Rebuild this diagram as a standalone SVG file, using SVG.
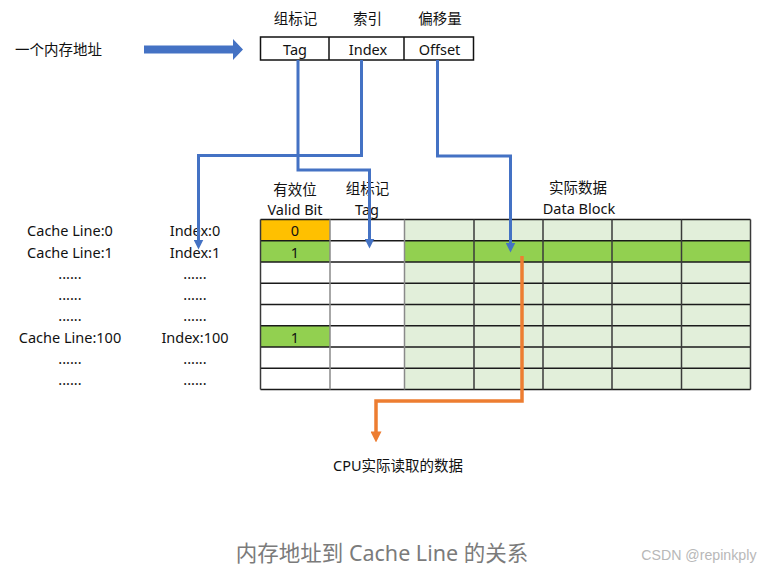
<svg xmlns="http://www.w3.org/2000/svg" width="769" height="572" viewBox="0 0 769 572">
<defs>
<style>
text{font-family:"Noto Sans","Noto Sans CJK SC",sans-serif;font-size:14.5px;fill:#111;text-anchor:middle;dominant-baseline:central}
.cap{font-size:21.5px;fill:#7b7b7b}
.wm{font-family:"Liberation Sans",Arial,sans-serif;font-size:14.2px;fill:#b8b8b8;text-anchor:end}
.blue{fill:none;stroke:#4472C4;stroke-width:3;stroke-linejoin:miter}
.orange{fill:none;stroke:#ED7D31;stroke-width:3.5;stroke-linejoin:miter}
.hl{stroke:#1a1a1a;stroke-width:1.5}
.vl{stroke:#3a3a3a;stroke-width:1.5}
.vg{stroke:#8a8a8a;stroke-width:1.5}
.lg{fill:#E2EFDA}
.gr{fill:#92D050}
.og{fill:#FFC000}
</style>
<marker id="ab" viewBox="0 0 10 10" refX="0.5" refY="5" markerWidth="10" markerHeight="10" markerUnits="userSpaceOnUse" orient="auto">
<path d="M0,0 L10,5 L0,10 z" fill="#4472C4"/>
</marker>
<marker id="ao" viewBox="0 0 10 10" refX="0.5" refY="5" markerWidth="11" markerHeight="11" markerUnits="userSpaceOnUse" orient="auto">
<path d="M0,0 L10,5 L0,10 z" fill="#ED7D31"/>
</marker>
</defs>
<rect width="769" height="572" fill="#fff"/>

<g id="address-label">
<text x="58.5" y="48.5">一个内存地址</text>
</g>
<g id="big-arrow">
<polygon points="144,45.5 233,45.5 233,39 243,49.5 233,60 233,53.5 144,53.5" fill="#4472C4"/>
</g>
<g id="address">
<rect x="260.5" y="37" width="213" height="23" fill="#fff" stroke="#111" stroke-width="1.5"/>
<line x1="329" y1="37" x2="329" y2="60" stroke="#111" stroke-width="1.5"/>
<line x1="404" y1="37" x2="404" y2="60" stroke="#111" stroke-width="1.5"/>
<text x="295" y="48.5">Tag</text>
<text x="368" y="48.5">Index</text>
<text x="439.5" y="48.5">Offset</text>
<text x="295.5" y="18">组标记</text>
<text x="367.5" y="18">索引</text>
<text x="440" y="18">偏移量</text>
</g>

<g id="headers">
<text x="295" y="189">有效位</text>
<text x="295" y="209">Valid Bit</text>
<text x="367.5" y="188">组标记</text>
<text x="367" y="209">Tag</text>
<text x="578" y="187">实际数据</text>
<text x="579" y="208">Data Block</text>
</g>

<g id="row-labels">
<text x="70" y="230">Cache Line:0</text>
<text x="70" y="251.5">Cache Line:1</text>
<text x="70" y="272.5">......</text>
<text x="70" y="294">......</text>
<text x="70" y="315">......</text>
<text x="70" y="336.5">Cache Line:100</text>
<text x="70" y="357.5">......</text>
<text x="70" y="379">......</text>
<text x="195" y="230">Index:0</text>
<text x="195" y="251.5">Index:1</text>
<text x="195" y="272.5">......</text>
<text x="195" y="294">......</text>
<text x="195" y="315">......</text>
<text x="195" y="336.5">Index:100</text>
<text x="195" y="357.5">......</text>
<text x="195" y="379">......</text>
</g>

<g id="cache-table">
<rect class="lg" x="404.5" y="219.5" width="346" height="170"/>
<rect class="gr" x="404.5" y="240.75" width="346" height="21.25"/>
<rect class="og" x="260.5" y="219.5" width="69.5" height="21.25"/>
<rect class="gr" x="260.5" y="240.75" width="69.5" height="21.25"/>
<rect class="gr" x="260.5" y="325.75" width="69.5" height="21.25"/>
<line class="hl" x1="260.5" y1="219.5" x2="750.5" y2="219.5"/>
<line class="hl" x1="260.5" y1="240.75" x2="750.5" y2="240.75"/>
<line class="hl" x1="260.5" y1="262" x2="750.5" y2="262"/>
<line class="hl" x1="260.5" y1="283.25" x2="750.5" y2="283.25"/>
<line class="hl" x1="260.5" y1="304.5" x2="750.5" y2="304.5"/>
<line class="hl" x1="260.5" y1="325.75" x2="750.5" y2="325.75"/>
<line class="hl" x1="260.5" y1="347" x2="750.5" y2="347"/>
<line class="hl" x1="260.5" y1="368.25" x2="750.5" y2="368.25"/>
<line class="hl" x1="260.5" y1="389.5" x2="750.5" y2="389.5"/>
<line class="vl" x1="260.5" y1="219.5" x2="260.5" y2="389.5"/>
<line class="vg" x1="330" y1="219.5" x2="330" y2="389.5"/>
<line class="vg" x1="404.5" y1="219.5" x2="404.5" y2="389.5"/>
<line class="vl" x1="474" y1="219.5" x2="474" y2="389.5"/>
<line class="vl" x1="543" y1="219.5" x2="543" y2="389.5"/>
<line class="vl" x1="612" y1="219.5" x2="612" y2="389.5"/>
<line class="vl" x1="681.5" y1="219.5" x2="681.5" y2="389.5"/>
<line class="vl" x1="750.5" y1="219.5" x2="750.5" y2="389.5"/>
<text x="295" y="230">0</text>
<text x="295" y="251.5">1</text>
<text x="295" y="336.5">1</text>
</g>

<g id="connectors">
<path class="blue" d="M298,60 V170 H369.5 V239" marker-end="url(#ab)"/>
<path class="blue" d="M361.5,60 V155.5 H198.5 V240" marker-end="url(#ab)"/>
<path class="blue" d="M437.5,60 V156 H510.5 V243" marker-end="url(#ab)"/>
<path class="orange" d="M522,256 V401 H376 V432" marker-end="url(#ao)"/>
</g>

<g id="cpu-label">
<text x="398" y="465">CPU实际读取的数据</text>
</g>

<g id="caption">
<text class="cap" x="382" y="552">内存地址到 Cache Line 的关系</text>
<text class="wm" x="756.5" y="555">CSDN @repinkply</text>
</g>
</svg>
